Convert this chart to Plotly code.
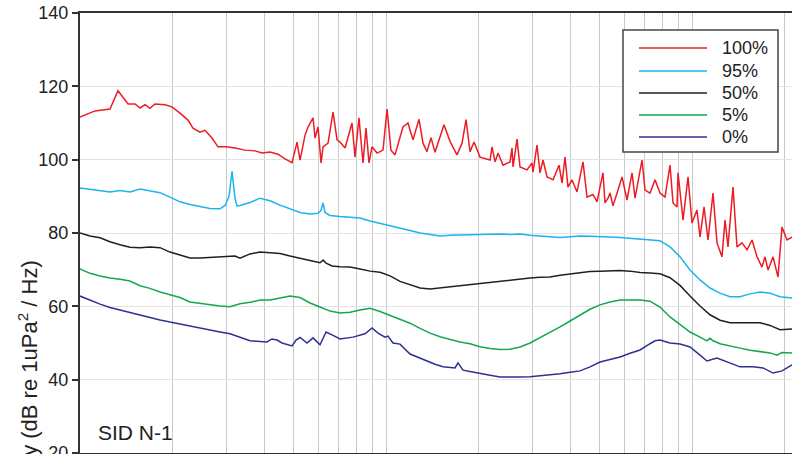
import plotly.graph_objects as go
import math

# ---------------- data (frequency in Hz, level in dB) ----------------
series_names = ["100%", "95%", "50%", "5%", "0%"]
series_colors = ["#ED1C24", "#1CB4EC", "#231F20", "#12A84E", "#2E3192"]

# 100 %
f100 = [10.0, 11.19, 12.53, 13.31, 14.36, 15.13, 15.71, 16.31, 16.93, 17.58,
        18.96, 19.98, 21.22, 22.54, 23.40, 24.66, 25.61, 27.00, 28.25, 30.00,
        32.10, 34.61, 37.32, 39.34, 41.78, 44.37, 46.77, 49.31, 51.20, 52.37,
        54.38, 55.62, 57.75, 58.63, 59.97, 61.34, 62.27, 64.65, 67.13, 69.19,
        70.76, 73.48, 77.43, 79.20, 81.61, 84.11, 86.03, 87.99, 90.00, 93.47,
        97.77, 100.8, 103.8, 107.0, 113.6, 118.0, 122.5, 128.2, 132.1, 136.1,
        140.3, 144.6, 154.7, 161.9, 170.6, 177.2, 182.6, 188.2, 193.9, 202.9,
        218.8, 222.1, 227.2, 232.4, 241.3, 254.3, 258.1, 260.1, 268.0, 274.1,
        289.0, 300.0, 302.3, 311.5, 318.6, 325.9, 335.9, 351.4, 367.6, 376.0,
        384.6, 393.3, 405.4, 420.9, 440.4, 453.8, 474.8, 489.3, 500.4, 511.9,
        519.6, 531.5, 539.6, 551.9, 573.0, 590.6, 613.2, 636.8, 651.3, 686.5,
        702.2, 729.1, 757.0, 786.0, 816.2, 847.4, 866.8, 893.3, 900.0, 934.7,
        970.4, 1000, 1038, 1062, 1095, 1128, 1171, 1207, 1253, 1282,
        1311, 1361, 1403, 1457, 1513, 1571, 1631, 1693, 1732, 1772,
        1840, 1910, 1968, 2044, 2122]
v100 = [111.6, 113.3, 113.8, 118.8, 115.2, 115.2, 114.1, 115.0, 114.0, 115.2,
        115.0, 114.4, 112.7, 110.8, 108.6, 107.5, 108.0, 105.9, 103.5, 103.5,
        103.2, 102.6, 102.4, 101.8, 102.1, 101.5, 100.2, 99.2, 104.8, 99.9,
        106.7, 108.9, 111.4, 105.9, 108.9, 99.1, 103.5, 104.5, 113.0, 105.4,
        104.8, 103.2, 110.0, 100.7, 111.4, 99.1, 108.6, 99.1, 103.5, 101.8,
        102.6, 113.8, 102.6, 101.3, 108.9, 110.0, 105.4, 111.0, 104.5, 102.2,
        106.0, 102.0, 109.5, 105.0, 101.3, 104.5, 110.9, 102.2, 104.8, 100.7,
        99.9, 103.5, 99.4, 101.8, 98.5, 99.4, 103.2, 98.0, 105.6, 98.0,
        97.2, 99.1, 96.6, 104.0, 96.4, 99.9, 95.3, 94.5, 98.5, 93.6,
        100.7, 92.5, 94.5, 91.2, 99.4, 89.8, 90.5, 88.5, 92.5, 96.4,
        88.2, 89.5, 90.9, 87.4, 91.7, 95.3, 89.0, 96.4, 89.5, 99.9,
        91.7, 90.9, 94.5, 90.9, 89.8, 98.5, 88.2, 87.1, 96.4, 83.5,
        95.3, 82.7, 86.3, 78.9, 87.1, 78.1, 90.9, 77.3, 73.5, 83.5,
        76.2, 92.5, 76.2, 77.3, 75.4, 78.1, 73.5, 70.7, 73.5, 69.9,
        73.5, 68.0, 81.6, 78.1, 78.9]

# 95 %
f95 = [10.0, 10.78, 11.63, 12.53, 13.51, 14.57, 15.71, 16.93, 18.26, 19.68,
       21.22, 22.88, 24.66, 26.60, 28.68, 29.78, 30.69, 31.39, 32.10, 32.59,
       33.33, 35.94, 38.75, 41.78, 45.05, 48.57, 52.37, 56.45, 59.97, 61.34,
       62.27, 63.21, 65.62, 70.76, 76.28, 82.25, 88.67, 95.60, 103.1, 111.1,
       119.8, 129.2, 139.3, 150.2, 161.9, 174.6, 188.2, 202.9, 218.8, 235.9,
       254.3, 274.2, 295.6, 318.6, 343.6, 370.5, 399.5, 430.5, 464.2, 500.4,
       539.6, 581.8, 627.3, 676.3, 729.1, 786.0, 847.4, 913.8, 985.2, 1062,
       1145, 1235, 1331, 1435, 1547, 1668, 1798, 1939, 2122]
v95 = [92.3, 92.0, 91.6, 91.2, 91.6, 91.2, 92.0, 91.5, 91.0, 89.8,
       88.5, 87.8, 87.3, 86.7, 86.6, 87.5, 90.0, 96.8, 89.5, 87.4,
       87.5, 88.3, 89.5, 88.8, 87.6, 86.6, 85.6, 85.2, 85.4, 86.2,
       88.2, 85.6, 84.8, 84.5, 84.3, 84.1, 83.3, 82.7, 82.0, 81.4,
       80.7, 80.0, 79.5, 79.2, 79.4, 79.5, 79.6, 79.7, 79.7, 79.7,
       79.6, 79.7, 79.4, 79.2, 79.0, 78.8, 79.0, 79.2, 79.1, 78.9,
       78.9, 78.8, 78.6, 78.4, 78.0, 77.9, 76.2, 73.5, 69.9, 67.2,
       65.0, 63.6, 62.6, 62.6, 63.4, 63.9, 63.6, 62.6, 62.3]

# 50 %
f50 = [10.0, 10.78, 11.63, 12.53, 13.51, 14.57, 15.71, 16.93, 18.26, 19.68,
       21.22, 22.88, 24.66, 26.60, 28.68, 30.92, 32.10, 33.33, 34.61, 35.94,
       38.75, 41.78, 45.05, 48.57, 52.37, 56.45, 60.86, 62.27, 63.69, 66.63,
       70.76, 76.28, 82.25, 88.67, 95.60, 103.1, 111.1, 119.8, 129.2, 139.3,
       150.2, 161.9, 174.6, 188.2, 202.9, 218.8, 235.9, 254.3, 274.2, 295.6,
       318.6, 343.6, 370.5, 399.5, 430.5, 464.2, 500.4, 539.6, 581.8, 627.3,
       676.3, 729.1, 786.0, 847.4, 913.8, 985.2, 1062, 1145, 1235, 1331,
       1435, 1547, 1668, 1798, 1939, 2122]
v50 = [80.0, 79.2, 78.7, 77.6, 76.8, 76.1, 76.0, 76.2, 76.0, 74.8,
       74.0, 73.2, 73.2, 73.3, 73.5, 73.6, 73.7, 73.1, 73.8, 74.3,
       74.8, 74.7, 74.4, 73.7, 73.2, 72.5, 71.9, 72.6, 71.8, 71.0,
       70.8, 70.7, 70.2, 69.6, 69.3, 68.3, 66.8, 65.8, 65.0, 64.7,
       65.0, 65.3, 65.7, 66.1, 66.3, 66.6, 66.9, 67.2, 67.5, 67.7,
       67.9, 68.0, 68.5, 68.9, 69.3, 69.5, 69.6, 69.7, 69.8, 69.6,
       69.2, 69.1, 68.9, 67.8, 65.7, 62.8, 60.1, 57.7, 56.2, 55.5,
       55.5, 55.5, 55.5, 54.8, 53.6, 53.8]

# 5 %
f5 = [10.0, 10.78, 11.63, 12.53, 13.51, 14.57, 15.71, 16.93, 18.26, 19.68,
      21.22, 22.88, 24.66, 26.60, 28.68, 30.92, 33.33, 35.94, 38.75, 41.78,
      45.05, 48.57, 52.37, 56.45, 60.86, 65.62, 70.76, 76.28, 82.25, 88.67,
      95.60, 103.1, 111.1, 119.8, 129.2, 139.3, 150.2, 161.9, 174.6, 188.2,
      202.9, 218.8, 235.9, 254.3, 274.2, 295.6, 318.6, 343.6, 370.5, 399.5,
      430.5, 464.2, 500.4, 539.6, 581.8, 627.3, 676.3, 729.1, 786.0, 847.4,
      913.8, 985.2, 1062, 1119, 1145, 1171, 1235, 1331, 1435, 1547,
      1668, 1798, 1896, 1968, 2122]
v5 = [70.2, 69.0, 68.3, 67.7, 67.4, 66.9, 65.6, 64.9, 63.9, 63.1,
      62.4, 61.2, 60.8, 60.6, 60.1, 59.9, 60.7, 61.1, 61.7, 61.7,
      62.2, 62.8, 62.4, 60.9, 59.8, 58.7, 58.2, 58.4, 59.0, 59.5,
      58.6, 57.5, 56.4, 55.4, 54.0, 52.7, 51.7, 50.9, 50.3, 49.8,
      49.0, 48.5, 48.2, 48.3, 48.9, 50.0, 51.4, 52.9, 54.4, 56.0,
      57.7, 59.2, 60.4, 61.2, 61.7, 61.8, 61.7, 61.4, 59.8, 57.1,
      55.0, 53.0, 51.6, 50.6, 51.3, 50.6, 49.8, 49.1, 48.6, 48.0,
      47.6, 47.3, 46.7, 47.4, 47.3]

# 0 %
f0 = [10.0, 10.78, 11.63, 12.53, 13.51, 14.57, 15.71, 16.93, 18.26, 19.68,
      21.22, 22.88, 24.66, 26.60, 28.68, 30.92, 33.33, 35.94, 38.75, 40.83,
      42.40, 44.04, 45.72, 47.48, 49.31, 50.82, 52.37, 55.19, 57.75, 60.86,
      63.69, 66.63, 70.76, 78.02, 85.39, 90.00, 94.18, 99.25, 101.5, 105.4,
      111.1, 119.8, 129.2, 136.1, 144.6, 153.6, 168.1, 171.9, 178.5, 188.2,
      202.9, 218.8, 235.9, 254.3, 274.2, 295.6, 318.6, 343.6, 370.5, 399.5,
      430.5, 464.2, 500.4, 539.6, 581.8, 627.3, 676.3, 729.1, 757.0, 786.0,
      847.4, 913.8, 985.2, 1062, 1119, 1207, 1301, 1435, 1583, 1706,
      1840, 1968, 2122]
v0 = [62.8, 61.6, 60.6, 59.7, 59.0, 58.2, 57.6, 56.9, 56.3, 55.7,
      55.2, 54.6, 54.1, 53.5, 53.0, 52.5, 51.5, 50.6, 50.4, 50.3,
      51.1, 50.8, 50.0, 49.5, 49.2, 50.8, 51.5, 50.0, 51.4, 49.5,
      53.0, 52.2, 51.1, 51.6, 52.5, 54.1, 52.7, 51.6, 51.9, 50.0,
      49.7, 47.0, 45.8, 45.1, 44.2, 43.5, 43.2, 44.6, 42.6, 42.2,
      41.8, 41.2, 40.7, 40.6, 40.7, 40.8, 41.0, 41.3, 41.6, 42.0,
      42.4, 43.5, 44.8, 45.5, 46.2, 47.2, 48.1, 49.8, 50.6, 50.8,
      50.0, 49.7, 48.9, 46.7, 45.1, 45.9, 44.8, 43.5, 43.5, 43.2,
      41.8, 42.4, 44.0]

x_series = [f100, f95, f50, f5, f0]
y_series = [v100, v95, v50, v5, v0]

y_ticks = [20, 40, 60, 80, 100, 120, 140]
x_grid = [20, 30, 40, 50, 60, 70, 80, 90, 100, 200, 300, 400, 500, 600,
          700, 800, 900, 1000, 2000]
panel_label = "SID N-1"
y_title = "Power Spectral Density (dB re 1uPa<sup>2</sup> / Hz)"

# ---------------- figure ----------------
FONT = "Liberation Sans, Arial, Helvetica, sans-serif"
W, H = 792, 454
ML, MR, MT, MB = 80, 0, 13, 1
PW, PH = W - ML - MR, H - MT - MB


def px(xp):
    return (xp - ML) / PW


def py(yp):
    return (H - MB - yp) / PH


fig = go.Figure()
for name, col, xs, ys in zip(series_names, series_colors, x_series, y_series):
    fig.add_trace(go.Scatter(x=xs, y=ys, mode="lines", name=name,
                             line=dict(color=col, width=1.5),
                             showlegend=False))

fig.update_layout(
    width=W, height=H,
    margin=dict(l=ML, r=MR, t=MT, b=MB, pad=0, autoexpand=False),
    paper_bgcolor="white", plot_bgcolor="white",
    font=dict(family=FONT, color="#222222"),
    xaxis=dict(type="log", range=[1, math.log10(2122)], automargin=False,
               tickvals=x_grid, showticklabels=False, ticks="",
               showgrid=True, gridcolor="#C9C9C9", gridwidth=1,
               showline=True, linecolor="#333333", linewidth=2, mirror=True,
               zeroline=False),
    yaxis=dict(range=[20, 140], tickvals=y_ticks, automargin=False,
               ticks="outside", ticklen=6, tickwidth=1.5, tickcolor="#333333",
               ticklabeloverflow="allow",
               tickfont=dict(size=18, family=FONT, color="#222222"),
               showgrid=True, gridcolor="#E3E3E3", gridwidth=1,
               showline=True, linecolor="#333333", linewidth=2, mirror=False,
               zeroline=False),
)

annotations = [
    dict(text=y_title, textangle=-90, xref="paper", yref="paper",
         x=px(27), y=py(259), xanchor="center", yanchor="top",
         showarrow=False, font=dict(size=22, family=FONT, color="#222222")),
    dict(text=panel_label, xref="paper", yref="paper",
         x=px(96), y=py(432), xanchor="left", yanchor="middle",
         showarrow=False, font=dict(size=21, family=FONT, color="#222222")),
]

# legend box
shapes = [dict(type="rect", xref="paper", yref="paper",
               x0=px(623), x1=px(778), y0=py(152), y1=py(30),
               line=dict(color="#444444", width=1.5), fillcolor="white",
               layer="above")]
legend_rows = [48, 71, 93, 115, 137]
for name, col, row in zip(series_names, series_colors, legend_rows):
    shapes.append(dict(type="line", xref="paper", yref="paper",
                       x0=px(639), x1=px(707), y0=py(row), y1=py(row),
                       line=dict(color=col, width=1.5), layer="above"))
    annotations.append(dict(text=name, xref="paper", yref="paper",
                            x=px(720), y=py(row), xanchor="left",
                            yanchor="middle", showarrow=False,
                            font=dict(size=18, family=FONT, color="#222222")))

fig.update_layout(shapes=shapes, annotations=annotations)
fig.write_html("out.html", config={"displayModeBar": False},
               post_script="document.body.style.margin='0';"
                           "document.body.style.overflow='hidden';")
